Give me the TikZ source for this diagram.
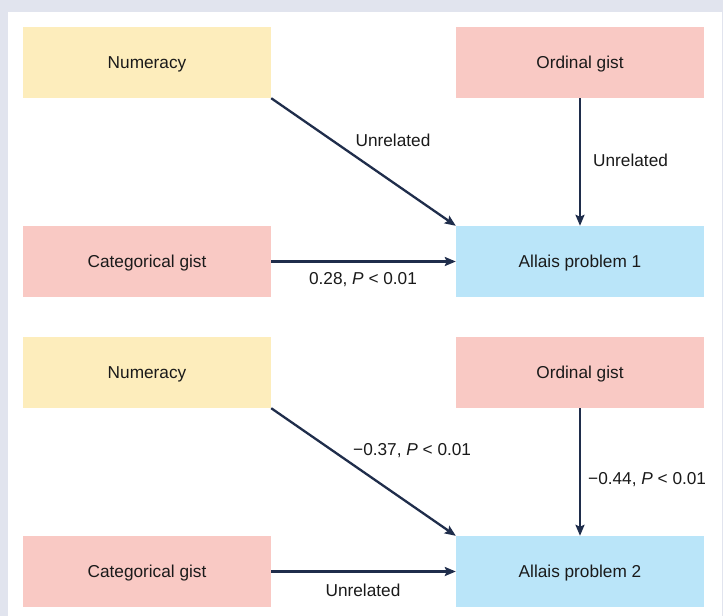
\documentclass[tikz,border=0pt]{standalone}
\usepackage{fontspec}
\setmainfont{Liberation Sans}
\usetikzlibrary{arrows.meta}
\definecolor{bggray}{HTML}{E1E4EE}
\definecolor{boxyellow}{HTML}{FDEDBC}
\definecolor{boxpink}{HTML}{F9C9C4}
\definecolor{boxblue}{HTML}{BAE5F9}
\definecolor{arrownavy}{HTML}{1F2D4B}
\definecolor{txt}{HTML}{1A1A1A}
\begin{document}
\begin{tikzpicture}[x=1bp,y=-1bp,
  every node/.style={font=\fontsize{17.3}{20}\selectfont, text=txt},
  varbox/.style={rectangle, minimum width=248bp, minimum height=71bp, inner sep=0pt, text depth=0pt},
  numbox/.style={varbox, fill=boxyellow},
  gistbox/.style={varbox, fill=boxpink},
  allaisbox/.style={varbox, fill=boxblue},
  link/.style={draw=arrownavy, line width=2.3bp, -{Stealth[length=11bp,width=9bp,inset=2bp]}},
  lab/.style={inner sep=0pt}
]
\useasboundingbox (0,0) rectangle (723,616);
\fill[bggray] (0,0) rectangle (723,616);
\fill[white] (8,12) rectangle (721.5,616);

% Panel 1
\node[numbox]   (num1)  at (147,62.5)  {Numeracy};
\node[gistbox]  (ord1)  at (580,62.5)  {Ordinal gist};
\node[gistbox]  (cat1)  at (147,261.5) {Categorical gist};
\node[allaisbox](all1)  at (580,261.5) {Allais problem 1};
\draw[link] (num1.south east) -- (all1.north west);
\draw[link] (ord1.south) -- (all1.north);
\draw[link] (cat1.east) -- (all1.west);
\node[lab] (l11) at (393,140) {Unrelated};
\node[lab, anchor=west] (l12) at (593,160) {Unrelated};
\node[lab] (l13) at (363,280) {0.28, \textit{P} < 0.01};

% Panel 2
\node[numbox]   (num2)  at (147,372.5) {Numeracy};
\node[gistbox]  (ord2)  at (580,372.5) {Ordinal gist};
\node[gistbox]  (cat2)  at (147,571.5) {Categorical gist};
\node[allaisbox](all2)  at (580,571.5) {Allais problem 2};
\draw[link] (num2.south east) -- (all2.north west);
\draw[link] (ord2.south) -- (all2.north);
\draw[link] (cat2.east) -- (all2.west);
\node[lab, anchor=west] (l21) at (353,451) {−0.37, \textit{P} < 0.01};
\node[lab, anchor=west] (l22) at (588,480) {−0.44, \textit{P} < 0.01};
\node[lab] (l23) at (363,590) {Unrelated};
\end{tikzpicture}
\end{document}
